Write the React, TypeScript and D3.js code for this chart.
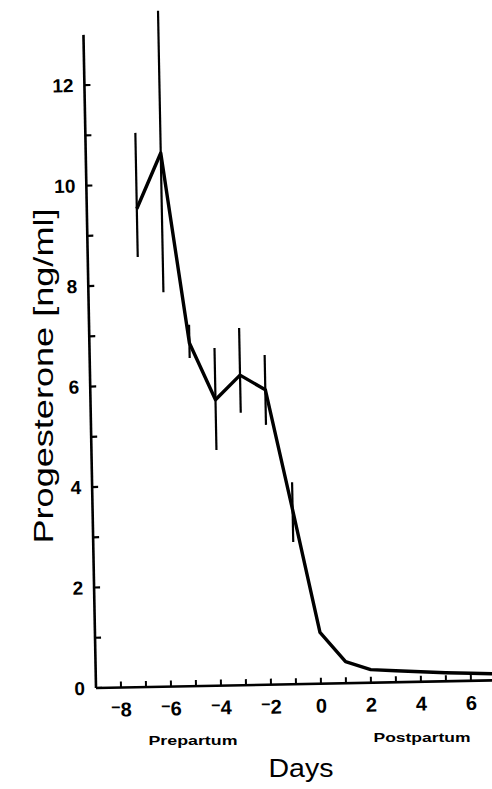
import React from "react";
import * as d3 from "d3";

const days = [-7, -6, -5, -4, -3, -2, -1, 0, 1, 2, 3, 4, 5, 6, 7];
const progesterone = [9.52, 10.62, 6.83, 5.69, 6.17, 5.87, 3.47, 1.02, 0.43, 0.26, 0.23, 0.2, 0.17, 0.15, 0.13];
const errDays = [-7, -6, -5, -4, -3, -2, -1];
const errHigh = [11.03, 13.45, 7.19, 6.72, 7.11, 6.56, 4.02];
const errLow = [8.56, 7.85, 6.53, 4.69, 5.42, 5.17, 2.83];
const xTickValues = [-8, -7, -6, -5, -4, -3, -2, -1, 0, 1, 2, 3, 4, 5, 6, 7];
const xTickLabels = [-8, -6, -4, -2, 0, 2, 4, 6];
const yTickValues = [0, 1, 2, 3, 4, 5, 6, 7, 8, 9, 10, 11, 12];
const yTickLabels = [0, 2, 4, 6, 8, 10, 12];

const W = 492;
const H = 789;

export default function App() {
  const x = d3.scaleLinear().domain([-9, 7.5]).range([96, 96 + 16.5 * 25]);
  const y = d3.scaleLinear().domain([0, 13]).range([688, 688 - 13 * 50.25]);
  const x0 = x(-9);
  const y0 = y(0);

  const line = d3
    .line<number>()
    .x((_, i) => x(days[i]))
    .y((d) => y(d));

  const font = "'Liberation Sans', Arial, Helvetica, sans-serif";

  return (
    <svg
      width={W}
      height={H}
      style={{ position: "absolute", left: 0, top: 0, background: "#fff" }}
    >
      <rect x={0} y={0} width={W} height={H} fill="#fff" />
      <g transform={`rotate(-1.1, ${x0}, ${y0})`}>
        {/* y axis */}
        <line x1={x0} x2={x0} y1={y(0)} y2={y(13)} stroke="#000" strokeWidth={2.6} />
        {yTickValues.map((v) => (
          <line key={"yt" + v} x1={x0} x2={x0 + 6} y1={y(v)} y2={y(v)} stroke="#000" strokeWidth={2.2} />
        ))}
        {yTickLabels.map((v) => (
          <text
            key={"yl" + v}
            x={x0 - 11}
            y={y(v)}
            dy="0.36em"
            textAnchor="end"
            fontFamily={font}
            fontWeight="bold"
            fontSize={19}
          >
            {v}
          </text>
        ))}
        {/* x axis */}
        <line x1={x0} x2={x(7.5)} y1={y0} y2={y0} stroke="#000" strokeWidth={2.6} />
        {xTickValues.map((d) => (
          <line key={"xt" + d} x1={x(d)} x2={x(d)} y1={y0} y2={y0 - 6} stroke="#000" strokeWidth={2} />
        ))}
        {xTickLabels.map((d) => (
          <text
            key={"xl" + d}
            x={x(d)}
            y={y0 + 29}
            textAnchor="middle"
            fontFamily={font}
            fontWeight="bold"
            fontSize={20}
          >
            {d < 0 ? (
              <>
                <tspan fontSize={16} dy={-4}>−</tspan>
                <tspan dy={4}>{Math.abs(d)}</tspan>
              </>
            ) : (
              d
            )}
          </text>
        ))}
        {/* error bars */}
        {errDays.map((d, i) => (
          <line
            key={"eb" + d}
            x1={x(d)}
            x2={x(d)}
            y1={y(errLow[i])}
            y2={y(errHigh[i])}
            stroke="#000"
            strokeWidth={2.2}
          />
        ))}
        {/* data line */}
        <path d={line(progesterone) || ""} fill="none" stroke="#000" strokeWidth={3.4} strokeLinejoin="round" />
      </g>
      {/* labels */}
      <text
        x={193}
        y={745}
        textAnchor="middle"
        fontFamily={font}
        fontWeight="bold"
        fontSize={13.5}
        textLength={89}
        lengthAdjust="spacingAndGlyphs"
      >
        Prepartum
      </text>
      <text
        x={422}
        y={742}
        textAnchor="middle"
        fontFamily={font}
        fontWeight="bold"
        fontSize={13.5}
        textLength={97}
        lengthAdjust="spacingAndGlyphs"
      >
        Postpartum
      </text>
      <text x={301} y={777} textAnchor="middle" fontFamily={font} fontSize={26} textLength={65} lengthAdjust="spacingAndGlyphs">
        Days
      </text>
      <text
        transform="translate(53, 376) rotate(-90)"
        textAnchor="middle"
        fontFamily={font}
        fontSize={27}
        textLength={335}
        lengthAdjust="spacingAndGlyphs"
      >
        Progesterone [ng/ml]
      </text>
    </svg>
  );
}
